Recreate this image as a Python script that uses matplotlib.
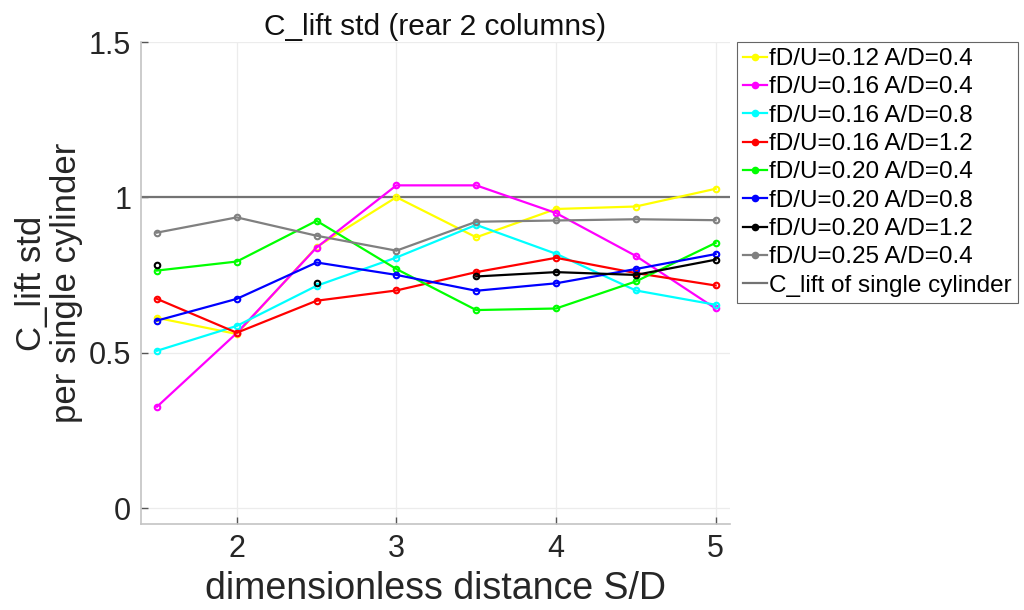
import numpy as np
import matplotlib
matplotlib.use("Agg")
import matplotlib.pyplot as plt

# ---------------- data ----------------
sd = [1.5, 2.0, 2.5, 3.0, 3.5, 4.0, 4.5, 5.0]

series_labels = [
    "fD/U=0.12 A/D=0.4",
    "fD/U=0.16 A/D=0.4",
    "fD/U=0.16 A/D=0.8",
    "fD/U=0.16 A/D=1.2",
    "fD/U=0.20 A/D=0.4",
    "fD/U=0.20 A/D=0.8",
    "fD/U=0.20 A/D=1.2",
    "fD/U=0.25 A/D=0.4",
]
f012_a04 = [0.613, 0.561, 0.841, 1.001, 0.872, 0.963, 0.971, 1.028]
f016_a04 = [0.327, 0.564, 0.839, 1.039, 1.039, 0.950, 0.812, 0.643]
f016_a08 = [0.507, 0.587, 0.716, 0.807, 0.912, 0.819, 0.701, 0.655]
f016_a12 = [0.674, 0.565, 0.668, 0.701, 0.760, 0.806, 0.757, 0.717]
f020_a04 = [0.765, 0.794, 0.925, 0.770, 0.638, 0.643, 0.730, 0.854]
f020_a08 = [0.604, 0.674, 0.791, 0.751, 0.700, 0.724, 0.770, 0.818]
f020_a12 = [0.783, np.nan, 0.724, np.nan, 0.746, 0.760, 0.751, 0.800]
f025_a04 = [0.887, 0.936, 0.877, 0.829, 0.922, 0.926, 0.930, 0.927]
single_cylinder = 1.0
single_label = "C_lift of single cylinder"

series_values = [f012_a04, f016_a04, f016_a08, f016_a12,
                 f020_a04, f020_a08, f020_a12, f025_a04]
colors = ["#FFFF00", "#FF00FF", "#00FFFF", "#FF0000",
          "#00FF00", "#0000FF", "#000000", "#808080"]

xticks = [2, 3, 4, 5]
yticks = [0, 0.5, 1, 1.5]
ytick_labels = ["0", "0.5", "1", "1.5"]

plt.rcParams['font.family'] = ['Liberation Sans', 'DejaVu Sans']

fig = plt.figure(figsize=(10.24, 6.10), dpi=100)
ax = fig.add_axes([141/1024, 1-524/610, (730-141)/1024, (524-42)/610])

for vals, lab, c in zip(series_values, series_labels, colors):
    ax.plot(sd, vals, color=c, lw=1.6, marker='o', ms=4, mfc='none',
            mew=1.5, label=lab, zorder=3)
ax.axhline(single_cylinder, color="#737373", lw=1.6, label=single_label, zorder=2)

ax.set_xlim(1.4, 5.09)
ax.set_ylim(-0.05, 1.5)
ax.set_xticks(xticks)
ax.set_yticks(yticks)
ax.set_yticklabels(ytick_labels)
ax.grid(True, color="#ececec", lw=0.9)
ax.set_axisbelow(True)
for s in ["top", "right"]:
    ax.spines[s].set_visible(False)
for s in ["left", "bottom"]:
    ax.spines[s].set_color("#c4c4c4")
    ax.spines[s].set_linewidth(1.2)
ax.tick_params(direction='in', length=5, width=1.0, color="#555555",
               labelsize=22, labelcolor="#262626", pad=7)

ax.set_title("C_lift std (rear 2 columns)", fontsize=21.5, color="#111111", pad=5)
ax.set_xlabel("dimensionless distance S/D", fontsize=27, color="#262626", labelpad=5)
ax.set_ylabel("C_lift std\nper single cylinder", fontsize=25, color="#262626",
              labelpad=4, linespacing=1.1)

leg = ax.legend(loc="upper left", bbox_to_anchor=(737/1024, 1-42/610),
                bbox_transform=fig.transFigure, fontsize=17.5, frameon=True,
                fancybox=False, framealpha=1, edgecolor="#666666",
                handlelength=1.0, handletextpad=0.08, labelspacing=0.26,
                borderpad=0.25, borderaxespad=0, markerscale=1.0)
leg.get_frame().set_linewidth(0.8)
for h in leg.legend_handles:
    try:
        h.set_markerfacecolor(h.get_color())
    except Exception:
        pass

fig.savefig("out.png", dpi=100)
